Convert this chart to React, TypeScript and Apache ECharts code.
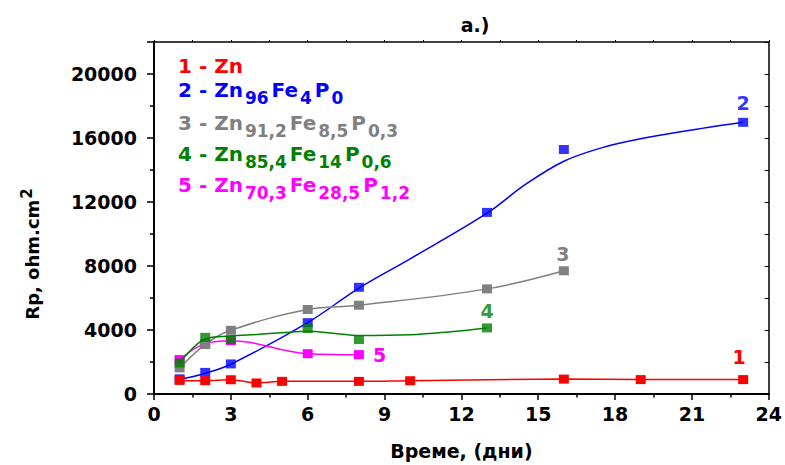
import React, { useEffect, useRef } from "react";
import * as echarts from "echarts";

const FONT = "'DejaVu Sans', sans-serif";

// ---- data ----
const redX = [1, 2, 3, 4, 5, 8, 10, 16, 19, 23];
const redY = [850, 830, 890, 690, 790, 790, 830, 930, 900, 900];

const blueX = [1, 2, 3, 6, 8, 13, 16, 23];
const blueY = [950, 1350, 1880, 4460, 6670, 11350, 15280, 16980];
// fitted curve drawn through/near the blue points
const blueFitX = [1, 2, 3, 6, 8, 10, 13, 14.5, 16, 17.5, 19, 21, 23];
const blueFitY = [900, 1300, 1860, 4460, 6620, 8450, 11300, 13100, 14550, 15400, 15950, 16500, 16980];

const grayX = [1, 2, 3, 6, 8, 13, 16];
const grayY = [1630, 3090, 3980, 5280, 5550, 6570, 7700];

const greenX = [1, 2, 3, 6, 8, 13];
const greenY = [1940, 3540, 3400, 4090, 3400, 4130];
const greenFitX = [1, 2, 3, 4, 5, 6, 7, 8, 10, 11.5, 13];
const greenFitY = [1940, 3440, 3620, 3720, 3830, 3920, 3800, 3650, 3700, 3880, 4130];

const magentaX = [1, 2, 3, 6, 8];
const magentaY = [2150, 3150, 3330, 2520, 2460];

const legendLines = [
  { color: "#ff0000", text: "{m|1 - Zn}", y: 56 },
  { color: "#0000ff", text: "{m|2 - Zn}{s|96}{m|Fe}{s|4}{m|P}{s|0}", y: 80 },
  { color: "#808080", text: "{m|3 - Zn}{s|91,2}{m|Fe}{s|8,5}{m|P}{s|0,3}", y: 113 },
  { color: "#008000", text: "{m|4 - Zn}{s|85,4}{m|Fe}{s|14}{m|P}{s|0,6}", y: 144 },
  { color: "#ff00ff", text: "{m|5 - Zn}{s|70,3}{m|Fe}{s|28,5}{m|P}{s|1,2}", y: 175 },
];

const RED = "#ff0000";
const BLUE = "#0000ff";
const GRAY = "#808080";
const GREEN = "#008000";
const MAGENTA = "#ff00ff";

const pairs = (xs: number[], ys: number[]) => xs.map((x, i) => [x, ys[i]]);

const labelText = (txt: string, color: string, position: string, distance: number, offset: number[] = [0, 0]) => ({
  show: true,
  formatter: txt,
  position,
  distance,
  offset,
  color,
  fontFamily: FONT,
  fontWeight: "bold",
  fontSize: 19,
});

const withLabel = (xs: number[], ys: number[], idx: number, lab: any) =>
  xs.map((x, i) => (i === idx ? { value: [x, ys[i]], label: lab } : [x, ys[i]]));

const makeRich = (color: string) => ({
  m: { fontFamily: FONT, fontWeight: "bold", fontSize: 20, lineHeight: 22, fill: color, verticalAlign: "top" },
  s: { fontFamily: FONT, fontWeight: "bold", fontSize: 17, lineHeight: 22, fill: color, verticalAlign: "top", padding: [9, 3, 0, 2] },
});

const SYM: [number, number] = [10, 9];

export default function App() {
  const ref = useRef<HTMLDivElement>(null);
  useEffect(() => {
    if (!ref.current) return;
    const chart = echarts.init(ref.current, null, { renderer: "svg" });
    const axisText = { fontFamily: FONT, fontWeight: "bold", fontSize: 19, color: "#000" };
    const lineSeries = (name: string, data: any[], color: string, z: number, smooth: number | boolean = 0.4) => ({
      name,
      type: "line",
      data,
      smooth,
      symbol: "rect",
      symbolSize: SYM,
      showSymbol: true,
      showAllSymbol: true,
      itemStyle: { color },
      lineStyle: { color, width: 1.5 },
      z,
    });
    const fitSeries = (name: string, data: any[], color: string, z: number) => ({
      name,
      type: "line",
      data,
      smooth: 0.35,
      showSymbol: false,
      symbol: "none",
      lineStyle: { color, width: 1.5 },
      z,
    });
    const markerSeries = (name: string, data: any[], color: string, z: number) => ({
      name,
      type: "scatter",
      data,
      symbol: "rect",
      symbolSize: SYM,
      itemStyle: { color },
      z,
    });

    chart.setOption({
      animation: false,
      backgroundColor: "#fff",
      grid: { left: 154, right: 12, top: 42, bottom: 71 },
      xAxis: [
        {
          type: "value",
          position: "bottom",
          min: 0,
          max: 24,
          interval: 3,
          name: "Време, (дни)",
          nameLocation: "middle",
          nameGap: 47,
          nameTextStyle: axisText,
          axisLine: { show: true, onZero: false, lineStyle: { color: "#000", width: 2 } },
          axisTick: { show: true, length: 6, lineStyle: { color: "#000", width: 1.5 } },
          minorTick: { show: true, splitNumber: 2, length: 3.5, lineStyle: { color: "#000", width: 1.5 } },
          axisLabel: { ...axisText, margin: 10 },
          splitLine: { show: false },
        },
        {
          type: "value",
          position: "top",
          min: 0,
          max: 24,
          interval: 1.5,
          axisLine: { show: true, onZero: false, lineStyle: { color: "#000", width: 1.5 } },
          axisTick: { show: true, length: 2, lineStyle: { color: "#000", width: 1 } },
          axisLabel: { show: false },
          splitLine: { show: false },
        },
      ],
      yAxis: [
        {
          type: "value",
          position: "left",
          min: 0,
          max: 22000,
          interval: 4000,
          axisLine: { show: true, onZero: false, lineStyle: { color: "#000", width: 2 } },
          axisTick: { show: true, length: 7, lineStyle: { color: "#000", width: 1.5 } },
          minorTick: { show: true, splitNumber: 2, length: 4, lineStyle: { color: "#000", width: 1.5 } },
          axisLabel: {
            ...axisText,
            margin: 17,
            formatter: (v: number) => (v > 20000 ? "" : String(v)),
          },
          splitLine: { show: false },
        },
        {
          type: "value",
          position: "right",
          min: 0,
          max: 22000,
          interval: 2000,
          axisLine: { show: true, onZero: false, lineStyle: { color: "#000", width: 1.5 } },
          axisTick: { show: true, inside: true, length: 4, lineStyle: { color: "#000", width: 1 } },
          axisLabel: { show: false },
          splitLine: { show: false },
        },
      ],
      series: [
        fitSeries("2 fit", pairs(blueFitX, blueFitY), BLUE, 2),
        markerSeries(
          "2 - Zn96Fe4P0",
          withLabel(blueX, blueY, blueX.length - 1, labelText("2", BLUE, "top", 5, [0, 0])),
          BLUE,
          3
        ),
        lineSeries(
          "5 - Zn70,3Fe28,5P1,2",
          withLabel(magentaX, magentaY, magentaX.length - 1, labelText("5", MAGENTA, "right", 9)),
          MAGENTA,
          4
        ),
        lineSeries(
          "3 - Zn91,2Fe8,5P0,3",
          withLabel(grayX, grayY, grayX.length - 1, labelText("3", GRAY, "top", 3, [-1, 0])),
          GRAY,
          5
        ),
        fitSeries("4 fit", pairs(greenFitX, greenFitY), GREEN, 6),
        markerSeries(
          "4 - Zn85,4Fe14P0,6",
          withLabel(greenX, greenY, greenX.length - 1, labelText("4", GREEN, "top", 3, [0, 0])),
          GREEN,
          7
        ),
        lineSeries(
          "1 - Zn",
          withLabel(redX, redY, redX.length - 1, labelText("1", RED, "top", 9, [-4, 0])),
          RED,
          8,
          0.3
        ),
      ],
      graphic: [
        {
          type: "text",
          x: 475,
          y: 25,
          style: {
            text: "a.)",
            fontFamily: FONT,
            fontWeight: "bold",
            fontSize: 19,
            fill: "#000",
            align: "center",
            verticalAlign: "middle",
          },
        },
        {
          type: "text",
          x: 30,
          y: 254,
          rotation: Math.PI / 2,
          style: {
            text: "{a|Rp, ohm.cm}{b|2}",
            align: "center",
            verticalAlign: "middle",
            rich: {
              a: { fontFamily: FONT, fontWeight: "bold", fontSize: 18, lineHeight: 22, fill: "#000", verticalAlign: "bottom" },
              b: { fontFamily: FONT, fontWeight: "bold", fontSize: 15, lineHeight: 22, fill: "#000", verticalAlign: "top", padding: [0, 0, 10, 1] },
            },
          },
        },
        ...legendLines.map((l) => ({
          type: "text",
          x: 178,
          y: l.y,
          style: {
            text: l.text,
            align: "left",
            verticalAlign: "top",
            rich: makeRich(l.color),
          },
        })),
      ],
    });
    return () => chart.dispose();
  }, []);
  return <div ref={ref} style={{ position: "fixed", left: 0, top: 0, width: 785, height: 465 }} />;
}
